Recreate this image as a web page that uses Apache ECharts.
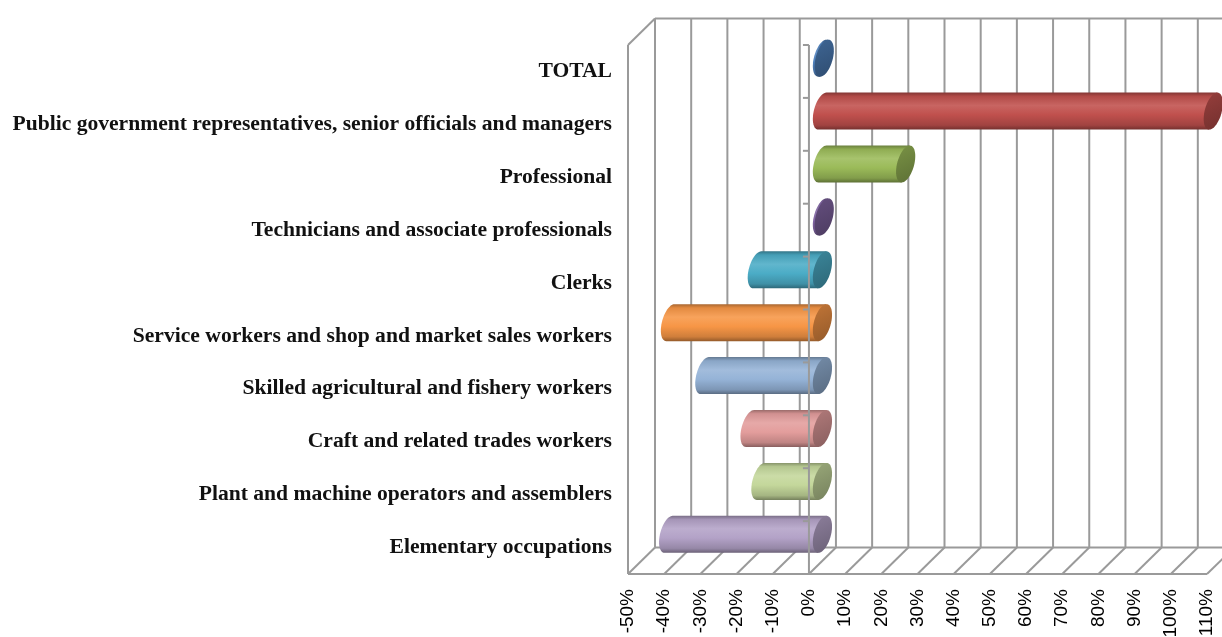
<!DOCTYPE html>
<html>
<head>
<meta charset="utf-8">
<script src="https://cdn.jsdelivr.net/npm/echarts@6/dist/echarts.min.js"></script>
<style>
html,body{margin:0;padding:0;background:#fff;}
#chart{width:1222px;height:637px;}
</style>
</head>
<body>
<div id="chart"></div>
<script>
// occupations, top to bottom
var categories = [
  'TOTAL',
  'Public government representatives, senior officials and managers',
  'Professional',
  'Technicians and associate professionals',
  'Clerks',
  'Service workers and shop and market sales workers',
  'Skilled agricultural and fishery workers',
  'Craft and related trades workers',
  'Plant and machine operators and assemblers',
  'Elementary occupations'
];
// change in %
var changes = [0.5, 108, 23, 0.5, -18, -42, -32.5, -20, -17, -42.5];
// x axis ticks (%)
var xTicks = [-50, -40, -30, -20, -10, 0, 10, 20, 30, 40, 50, 60, 70, 80, 90, 100, 110];

var palette = ['#4f81bd', '#c0504d', '#9bbb59', '#8064a2', '#4bacc6', '#f79646', '#95b3d7', '#e39d9c', '#c4d79b', '#b3a2c7'];
var DX = 27, DY = -26.5;   // depth of the 3d box
var gridColor = '#9a9a9a';

function shade(hex, f) {
  var n = parseInt(hex.slice(1), 16);
  var c = [(n >> 16) & 255, (n >> 8) & 255, n & 255];
  c = c.map(function (v) {
    return f <= 1 ? Math.round(v * f) : Math.round(v + (255 - v) * (f - 1));
  });
  return 'rgb(' + c.join(',') + ')';
}

function ln(x1, y1, x2, y2) {
  return {type: 'line', shape: {x1: x1, y1: y1, x2: x2, y2: y2}, style: {stroke: gridColor, lineWidth: 2}};
}

function renderFrame(params, api) {
  var cs = params.coordSys;
  var x = api.coord([api.value(0), 0])[0];
  var top = cs.y, bot = cs.y + cs.height;
  var ch = [ln(x + DX, top + DY, x + DX, bot + DY), ln(x, bot, x + DX, bot + DY)];
  if (params.dataIndex === 0) {
    ch.push(ln(cs.x, top, cs.x, bot));
    ch.push(ln(cs.x, top, cs.x + DX, top + DY));
    ch.push(ln(cs.x, bot, cs.x + cs.width, bot));
    ch.push(ln(cs.x + DX, bot + DY, cs.x + cs.width + DX, bot + DY));
    ch.push(ln(cs.x + DX, top + DY, cs.x + cs.width + DX, top + DY));
  }
  return {type: 'group', children: ch};
}

function renderZero(params, api) {
  var cs = params.coordSys;
  var x = api.coord([0, 0])[0];
  var ch = [ln(x, cs.y, x, cs.y + cs.height)];
  var n = categories.length;
  for (var i = 0; i <= n; i++) {
    var y = cs.y + i * cs.height / n;
    ch.push(ln(x - 6, y, x, y));
  }
  return {type: 'group', children: ch};
}

function renderBar(params, api) {
  var idx = api.value(0), v = api.value(1);
  var p0 = api.coord([0, idx]), p1 = api.coord([v, idx]);
  var band = api.size([0, 1])[1];
  var r = band * 0.35, rx = r * 0.47, k = -0.22;
  var cy = p0[1] + DY / 2;
  var xL = Math.min(p0[0], p1[0]) + DX / 2, xR = Math.max(p0[0], p1[0]) + DX / 2;
  var c = palette[idx];
  var body = [], cap = [], t, s;
  for (s = 0; s <= 24; s++) {
    t = Math.PI / 2 + Math.PI * s / 24;
    body.push([xL + rx * Math.cos(t) + k * r * Math.sin(t), cy + r * Math.sin(t)]);
  }
  body.push([xR - k * r, cy - r]);
  body.push([xR + k * r, cy + r]);
  for (s = 0; s < 48; s++) {
    t = 2 * Math.PI * s / 48;
    cap.push([xR + rx * Math.cos(t) + k * r * Math.sin(t), cy + r * Math.sin(t)]);
  }
  var bodyFill = new echarts.graphic.LinearGradient(0, 0, 0, 1, [
    {offset: 0, color: shade(c, 0.68)},
    {offset: 0.1, color: shade(c, 0.92)},
    {offset: 0.35, color: shade(c, 1.12)},
    {offset: 0.6, color: c},
    {offset: 0.88, color: shade(c, 0.84)},
    {offset: 1, color: shade(c, 0.6)}
  ]);
  var capFill = new echarts.graphic.LinearGradient(0, 0, 1, 1, [
    {offset: 0, color: shade(c, 0.78)},
    {offset: 1, color: shade(c, 0.6)}
  ]);
  return {
    type: 'group',
    children: [
      {type: 'polygon', shape: {points: body}, style: {fill: bodyFill}},
      {type: 'polygon', shape: {points: cap}, style: {fill: capFill}}
    ]
  };
}

var chart = echarts.init(document.getElementById('chart'));
chart.setOption({
  animation: false,
  grid: {left: 628, right: 15, top: 45, bottom: 63, containLabel: false, outerBoundsMode: 'none'},
  xAxis: {
    type: 'value', min: xTicks[0], max: xTicks[xTicks.length - 1], interval: 10,
    axisLine: {show: false}, axisTick: {show: false}, splitLine: {show: false},
    axisLabel: {
      rotate: 90, margin: 15, fontFamily: 'Liberation Sans', fontSize: 19, color: '#000',
      formatter: function (v) { return v + '%'; }
    }
  },
  yAxis: {
    type: 'category', inverse: true, data: categories,
    axisLine: {show: false, onZero: false}, axisTick: {show: false}, splitLine: {show: false},
    axisLabel: {margin: 16, padding: [4, 0, 0, 0], fontFamily: 'Liberation Serif', fontWeight: 'bold', fontSize: 21.6, color: '#111'}
  },
  series: [
    {type: 'custom', name: 'frame', z: 1, silent: true, renderItem: renderFrame,
     data: xTicks.map(function (v) { return [v]; })},
    {type: 'custom', name: 'change', z: 2, renderItem: renderBar,
     data: changes.map(function (v, i) { return [i, v]; })},
    {type: 'custom', name: 'zero', z: 3, silent: true, renderItem: renderZero, data: [[0]]}
  ]
});
</script>
</body>
</html>
